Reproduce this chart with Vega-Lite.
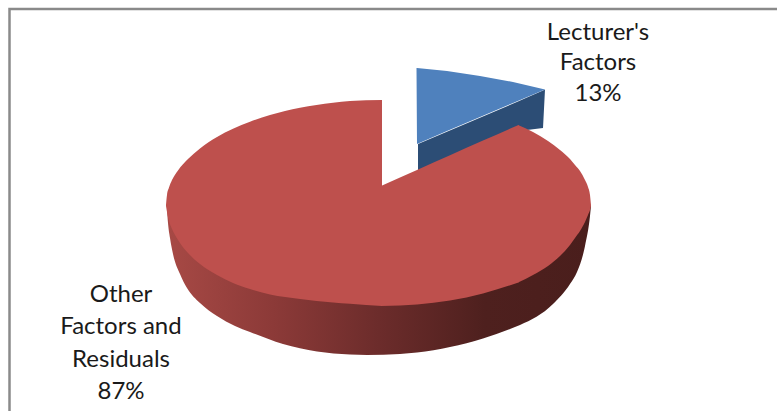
{
"$schema":"https://vega.github.io/schema/vega-lite/v6.json",
"width":777,"height":411,"padding":0,
"autosize":{"type":"none"},
"background":"white",
"view":{"stroke":null},
"datasets":{
"frame":[{"x":9.5,"y":411},{"x":9.5,"y":9},{"x":777,"y":9}],
"blueSide":[{"x":418,"y":144,"y2":175},{"x":518,"y":101.5,"y2":132},{"x":527,"y":97.5,"y2":130},{"x":543,"y":90.5,"y2":128},{"x":545,"y":89.5,"y2":89.5}],
"blueFace":[{"x":416.5,"y":68,"y2":68},{"x":417,"y":68,"y2":144},{"x":447,"y":71,"y2":131},{"x":480,"y":76,"y2":117},{"x":513,"y":82,"y2":103},{"x":545,"y":89.5,"y2":89.5}],
"redSide":[{"x":167,"y":205,"y2":210},{"x":168,"y":205,"y2":223},{"x":170,"y":205,"y2":238},{"x":173,"y":205,"y2":254},{"x":180,"y":205,"y2":274},{"x":187,"y":205,"y2":288},{"x":200,"y":205,"y2":303},{"x":217,"y":205,"y2":316},{"x":235,"y":205,"y2":326},{"x":250,"y":205,"y2":332},{"x":283,"y":205,"y2":344},{"x":317,"y":205,"y2":351.5},{"x":350,"y":205,"y2":354.5},{"x":367,"y":205,"y2":355},{"x":400,"y":205,"y2":354},{"x":417,"y":205,"y2":352.5},{"x":450,"y":205,"y2":347},{"x":483,"y":205,"y2":338.5},{"x":510,"y":205,"y2":329},{"x":520,"y":205,"y2":325},{"x":553,"y":205,"y2":304},{"x":570,"y":205,"y2":284},{"x":577,"y":205,"y2":272},{"x":585,"y":205,"y2":246},{"x":590,"y":205,"y2":216},{"x":591,"y":205,"y2":206}],
"redFace":[
{"part":"left","x":166,"y":205,"y2":206},{"part":"left","x":167,"y":195,"y2":212},{"part":"left","x":169,"y":187.5,"y2":221},{"part":"left","x":172,"y":180,"y2":229},{"part":"left","x":178,"y":170.4,"y2":240},{"part":"left","x":188,"y":159,"y2":253},{"part":"left","x":200,"y":148.4,"y2":264},{"part":"left","x":217,"y":137,"y2":275},{"part":"left","x":233,"y":128.8,"y2":283},{"part":"left","x":250,"y":121.7,"y2":289},{"part":"left","x":270,"y":115,"y2":294.5},{"part":"left","x":300,"y":107.7,"y2":299},{"part":"left","x":333,"y":102.7,"y2":302.5},{"part":"left","x":350,"y":101,"y2":303.8},{"part":"left","x":382,"y":100,"y2":306},
{"part":"mid","x":381,"y":186,"y2":306},{"part":"mid","x":400,"y":177.5,"y2":305.5},{"part":"mid","x":417,"y":170,"y2":304.5},{"part":"mid","x":450,"y":155.3,"y2":300.5},{"part":"mid","x":483,"y":140.6,"y2":293.5},{"part":"mid","x":518.5,"y":125,"y2":282.5},
{"part":"right","x":518,"y":125,"y2":282.5},{"part":"right","x":533,"y":132,"y2":275},{"part":"right","x":548,"y":141,"y2":266},{"part":"right","x":560,"y":150,"y2":256},{"part":"right","x":570,"y":159,"y2":245},{"part":"right","x":575,"y":165,"y2":238},{"part":"right","x":580,"y":171,"y2":231},{"part":"right","x":585,"y":180,"y2":222},{"part":"right","x":588,"y":187,"y2":215},{"part":"right","x":590,"y":195,"y2":210},{"part":"right","x":591,"y":205,"y2":206}],
"labels":[{"name":"Lecturer's","x":598,"y":32.5},{"name":"Factors","x":598,"y":63},{"name":"13%","x":598,"y":93.5},{"name":"Other","x":121,"y":294.5},{"name":"Factors and","x":121,"y":326.5},{"name":"Residuals","x":121,"y":359.5},{"name":"87%","x":121,"y":391.5}]
},
"encoding":{
"x":{"field":"x","type":"quantitative","axis":null,"scale":{"domain":[0,777],"nice":false,"zero":false}},
"y":{"field":"y","type":"quantitative","axis":null,"scale":{"domain":[411,0],"nice":false,"zero":false}},
"y2":{"field":"y2"}
},
"layer":[
{"data":{"name":"frame"},"mark":{"type":"line","color":"#8a8a8a","strokeWidth":2.5},"encoding":{"y2":null,"order":{"value":null}}},
{"data":{"name":"blueSide"},"mark":{"type":"area","color":"#2C4D75"}},
{"data":{"name":"blueFace"},"mark":{"type":"area","color":"#4F81BD"}},
{"data":{"name":"redSide"},"mark":{"type":"area","interpolate":"monotone","color":{"gradient":"linear","x1":0,"y1":0,"x2":1,"y2":0,"stops":[{"offset":0,"color":"#A74945"},{"offset":0.25,"color":"#8C3A38"},{"offset":0.5,"color":"#6C2C2B"},{"offset":0.75,"color":"#4E201E"},{"offset":1,"color":"#4A1E1C"}]}}},
{"data":{"name":"redFace"},"mark":{"type":"area","interpolate":"monotone","color":"#BE504D"},"encoding":{"detail":{"field":"part"}}},
{"data":{"name":"labels"},"mark":{"type":"text","font":"Lato","fontSize":24,"align":"center","baseline":"middle","color":"#1a1a1a"},"encoding":{"y2":null,"text":{"field":"name"}}}
]
}
